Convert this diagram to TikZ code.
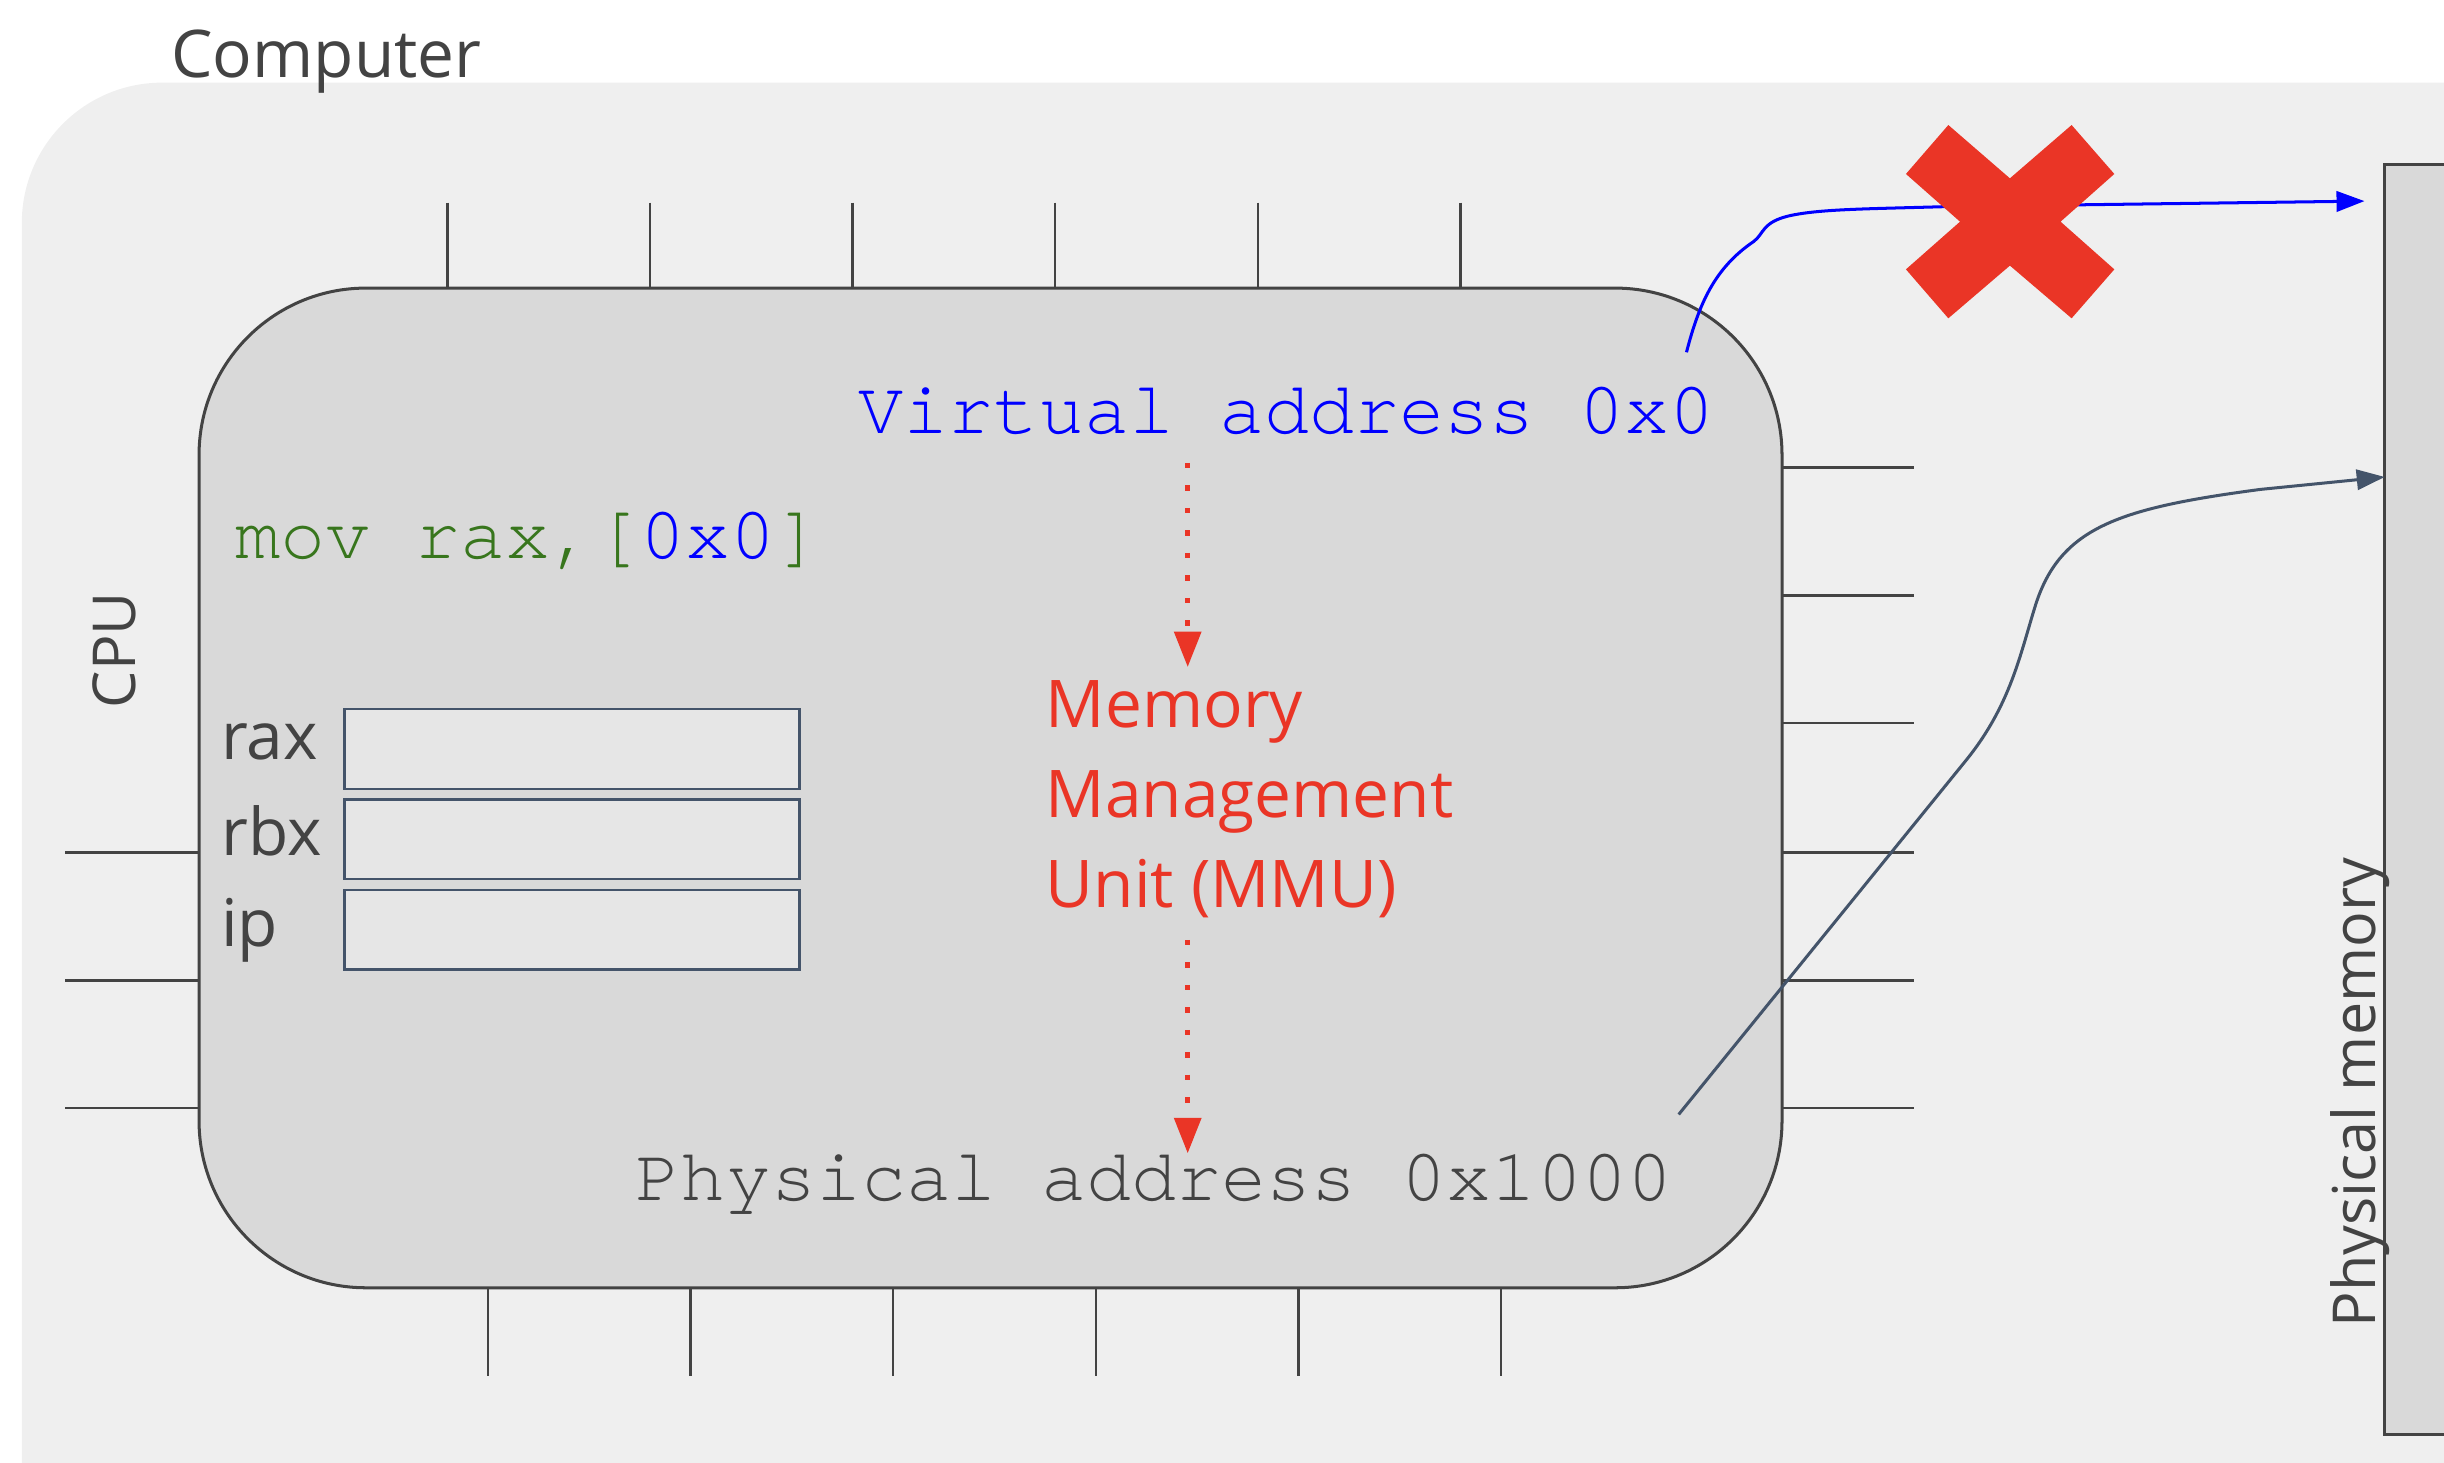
\documentclass[tikz,border=0pt]{standalone}
\usepackage{fontspec}
\setmainfont{Open Sans}
\setmonofont{TeX Gyre Cursor}
\usepackage{xcolor}
\usetikzlibrary{arrows.meta}
\definecolor{bggray}{HTML}{EFEFEF}
\definecolor{chipgray}{HTML}{D9D9D9}
\definecolor{reggray}{HTML}{E6E6E6}
\definecolor{textgray}{HTML}{434343}
\definecolor{slate}{HTML}{44546A}
\definecolor{mmured}{HTML}{EA3526}
\definecolor{codegreen}{HTML}{38761D}
\definecolor{codeblue}{HTML}{0000FF}

\begin{document}
\begin{tikzpicture}[x=0.01cm, y=-0.01cm,
        every node/.style = {inner sep=0, outer sep=0, text=textgray},
        txt/.style = {font=\fontsize{12}{16.4}\selectfont},
        smalltxt/.style = {font=\fontsize{10.8}{13}\selectfont},
        mono/.style = {font=\ttfamily\fontsize{13.7}{16}\selectfont},
        leg/.style = {draw=textgray, line width=0.45pt},
        box/.style = {draw=textgray, fill=chipgray, line width=0.55pt},
        reg/.style = {draw=slate, fill=reggray, line width=0.45pt, minimum width=2.92cm, minimum height=0.51cm},
        mmuarrow/.style = {mmured, line width=1pt, dash pattern=on 1pt off 3.1pt, -{Triangle[length=6.5pt,width=4.8pt]}},
        wire/.style = {line width=0.55pt, -{Triangle[length=5.1pt,width=3.7pt]}}
        ]
        \useasboundingbox (0,0) rectangle (1568,938);
        \clip (0,0) rectangle (1568,938);
        \fill[bggray, rounded corners=0.9cm] (14,53) rectangle (1800,1100);
        \node (title) [txt, anchor=base west] at (110,50) {Computer};

        \foreach \x in {287,417,...,937} \draw[leg] (\x,130) -- (\x,185);
        \foreach \x in {313,443,...,963} \draw[leg] (\x,826) -- (\x,883);
        \foreach \y in {547,629,711} \draw[leg] (42,\y) -- (128,\y);
        \foreach \y in {300,382,464,547,629,711} \draw[leg] (1143,\y) -- (1228,\y);
        \node (cpu) [box, rounded corners=1.07cm, minimum width=10.15cm, minimum height=6.41cm] at (635.5,505.5) {};
        \node (cpulabel) [smalltxt, rotate=90, anchor=base] at (87,417) {CPU};

        \node (instr) [mono, anchor=base west, text=codegreen] at (151,358) {mov rax,[\textcolor{codeblue}{0x0}]};
        \foreach \name/\y/\b in {rax/480.5/487, rbx/538.5/549, ip/596.5/607} {
            \node (\name) [reg] at (367,\y) {};
            \node [txt, anchor=base west] at (142,\b) {\name};
        }

        \node (va) [mono, anchor=base west, text=codeblue] at (551,278) {Virtual address 0x0};
        \node (mmu) [txt, anchor=base west, align=left, text=mmured] at (671,582) {Memory\\Management\\Unit (MMU)};
        \node (pa) [mono, anchor=base west] at (408,770) {Physical address 0x1000};
        \coordinate (t1) at (762,297);
        \coordinate (t2) at (762,428);
        \coordinate (t3) at (762,603);
        \coordinate (t4) at (762,740);
        \draw[mmuarrow] (t1) -- (t2);
        \draw[mmuarrow] (t3) -- (t4);

        \node (mem) [box, minimum width=1.7cm, minimum height=8.14cm] at (1615,513) {};
        \node (memlabel) [smalltxt, rotate=90, anchor=base] at (1524,701) {Physical memory};

        \coordinate (vstart) at (1082,226);
        \coordinate (vend) at (1517,129);
        \draw[wire, codeblue] (vstart) .. controls (1090,195) and (1100,172) .. (1125,155)
            .. controls (1132,150) and (1130,142) .. (1150,138)
            .. controls (1170,134) and (1200,134) .. (1250,132.5) -- (vend);
        \fill[mmured] (1250,80.2) -- (1289.5,114.4) -- (1329.1,80.2) -- (1356.5,111.6) -- (1322,142.2)
            -- (1356.5,172.8) -- (1329.1,204.2) -- (1289.5,170.4) -- (1250,204.2) -- (1222.8,172.8)
            -- (1257.5,142.2) -- (1222.8,111.6) -- cycle;

        \coordinate (pstart) at (1077,715);
        \coordinate (pend) at (mem.west |- 0,306);
        \draw[wire, slate] (pstart) -- (1262,487) .. controls (1290,452) and (1296,420) .. (1306,388)
            .. controls (1322,338) and (1360,326) .. (1450,314) -- (pend);
\end{tikzpicture}
\end{document}
